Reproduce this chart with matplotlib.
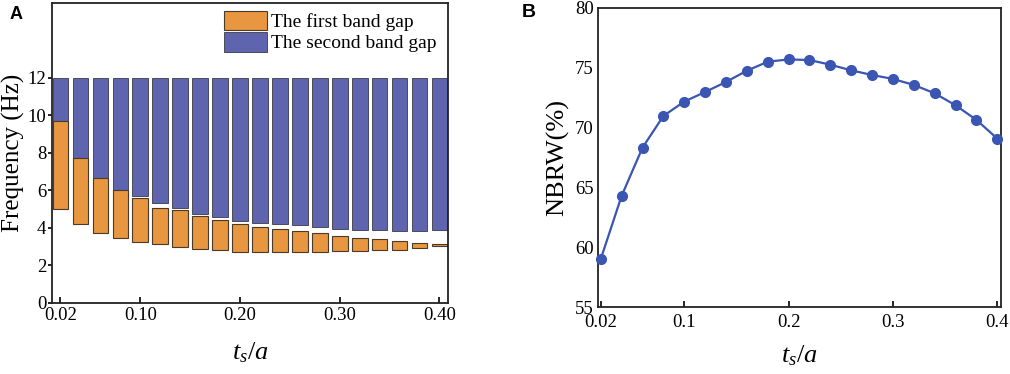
import matplotlib.pyplot as plt
from matplotlib.patches import Patch
import numpy as np

plt.rcParams['font.family'] = ['Liberation Serif', 'DejaVu Serif']
plt.rcParams['mathtext.fontset'] = 'custom'
plt.rcParams['mathtext.it'] = 'Liberation Serif:italic'
plt.rcParams['mathtext.rm'] = 'Liberation Serif'

# ts/a values (shared by both panels)
ts = [0.02, 0.04, 0.06, 0.08, 0.10, 0.12, 0.14, 0.16, 0.18, 0.20,
      0.22, 0.24, 0.26, 0.28, 0.30, 0.32, 0.34, 0.36, 0.38, 0.40]

# panel A: band gap limits (Hz)
gap1_low = [5.01, 4.19, 3.73, 3.45, 3.24, 3.12, 2.97, 2.88, 2.80, 2.74,
            2.73, 2.74, 2.74, 2.74, 2.76, 2.76, 2.81, 2.83, 2.92, 3.03]
gap1_high = [9.70, 7.70, 6.67, 6.02, 5.59, 5.04, 4.96, 4.65, 4.44, 4.23,
             4.07, 3.95, 3.82, 3.72, 3.56, 3.45, 3.40, 3.29, 3.22, 3.15]
gap2_low = [9.70, 7.70, 6.67, 6.02, 5.68, 5.33, 5.04, 4.74, 4.58, 4.39,
            4.28, 4.23, 4.14, 4.07, 3.96, 3.88, 3.88, 3.84, 3.84, 3.89]
gap2_high = [12.0] * 20

# panel B: normalised band gap relative width (%)
nbrw = [59.03, 64.31, 68.33, 70.97, 72.17, 72.97, 73.81, 74.75, 75.50, 75.69,
        75.64, 75.25, 74.78, 74.39, 74.06, 73.56, 72.86, 71.86, 70.64, 69.08]

orange = '#E8963F'
purple = '#5E64AE'
line_blue = '#3A55B2'

fig = plt.figure(figsize=(10.1, 3.74), dpi=100)
axA = fig.add_axes([0.0515, 0.19, 0.392, 0.803])
axB = fig.add_axes([0.592, 0.179, 0.399, 0.8])

ts = np.array(ts)
g1l, g1h = np.array(gap1_low), np.array(gap1_high)
g2l, g2h = np.array(gap2_low), np.array(gap2_high)

w = 0.0157
axA.bar(ts, g2h - g2l, bottom=g2l, width=w, color=purple, edgecolor='#4a4a5a', linewidth=0.7)
axA.bar(ts, g1h - g1l, bottom=g1l, width=w, color=orange, edgecolor='#4a3a28', linewidth=0.8)
axA.set_xlim(0.0115, 0.4085)
axA.set_ylim(0, 16)
axA.set_yticks([0, 2, 4, 6, 8, 10, 12])
axA.set_xticks([0.02, 0.10, 0.20, 0.30, 0.40])
axA.set_xticklabels(['0.02', '0.10', '0.20', '0.30', '0.40'])
axA.set_ylabel('Frequency (Hz)', fontsize=18, labelpad=2)
axA.set_xlabel('$t_s/a$', fontsize=19, labelpad=12)
axA.tick_params(axis='x', direction='in', length=4, width=1.2, labelsize=13.5, pad=3)
axA.tick_params(axis='y', direction='out', length=3, width=1.2, labelsize=13.5, pad=1)
handles = [Patch(facecolor=orange, edgecolor='#4a3a28', linewidth=0.8, label='The first band gap'),
           Patch(facecolor=purple, edgecolor='#4a4a5a', linewidth=0.7, label='The second band gap')]
axA.legend(handles=handles, loc='upper left', bbox_to_anchor=(0.434, 0.972), frameon=False,
           fontsize=14, handlelength=2.2, handleheight=1.15, handletextpad=0.25,
           labelspacing=0.05, borderpad=0, borderaxespad=0)

axB.plot(ts, nbrw, '-o', color=line_blue, linewidth=1.6, markersize=7, clip_on=False, zorder=3)
axB.set_xlim(0.0172, 0.4035)
axB.set_ylim(55, 80)
axB.set_yticks([55, 60, 65, 70, 75, 80])
axB.set_xticks([0.02, 0.1, 0.2, 0.3, 0.4])
axB.set_xticklabels(['0.02', '0.1', '0.2', '0.3', '0.4'])
axB.set_ylabel('NBRW(%)', fontsize=19, labelpad=4)
axB.set_xlabel('$t_s/a$', fontsize=19, labelpad=9)
axB.tick_params(axis='x', direction='in', length=4, width=1.2, labelsize=13.5, pad=5)
axB.tick_params(axis='y', direction='in', length=0, labelsize=13.5, pad=3)

for ax in (axA, axB):
    for s in ax.spines.values():
        s.set_linewidth(1.3)
        s.set_color('#222222')

fig.text(0.009, 0.985, 'A', fontsize=13, fontweight='bold', family='Liberation Sans', va='top')
fig.text(0.517, 0.99, 'B', fontsize=14, fontweight='bold', family='Liberation Sans', va='top')

fig.savefig('out.png', dpi=100)
